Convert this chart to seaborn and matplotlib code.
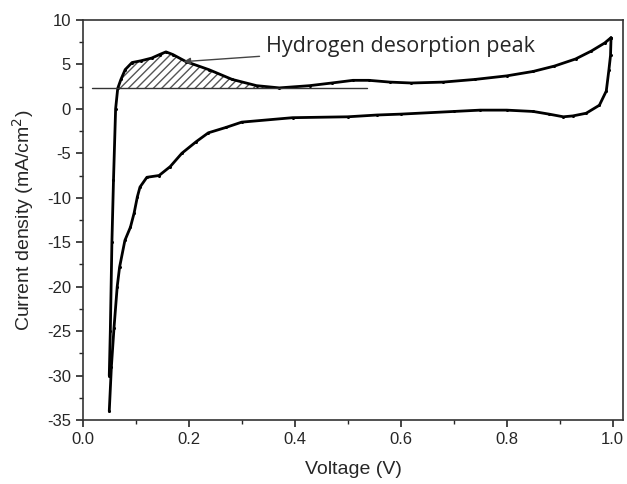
import numpy as np
import pandas as pd
import matplotlib
matplotlib.use("Agg")
import matplotlib.pyplot as plt
import seaborn as sns
from matplotlib.ticker import MultipleLocator

# anodic (forward) scan
v_anodic = [0.050, 0.052, 0.055, 0.058, 0.062, 0.066, 0.072, 0.080, 0.093, 0.110,
            0.130, 0.145, 0.157, 0.170, 0.195, 0.238, 0.282, 0.328, 0.371, 0.428,
            0.470, 0.510, 0.540, 0.580, 0.620, 0.680, 0.740, 0.800, 0.850, 0.890,
            0.930, 0.960, 0.985, 0.997]
j_anodic = [-30.0, -25.0, -15.0, -8.0, 0.0, 2.3, 3.3, 4.4, 5.2, 5.4,
            5.7, 6.1, 6.4, 6.1, 5.3, 4.4, 3.3, 2.6, 2.35, 2.6,
            2.9, 3.2, 3.2, 3.0, 2.9, 3.0, 3.3, 3.7, 4.2, 4.8,
            5.6, 6.5, 7.4, 8.0]

# cathodic (reverse) scan
v_cathodic = [0.997, 0.996, 0.993, 0.988, 0.975, 0.950, 0.925, 0.907, 0.880, 0.850,
              0.800, 0.750, 0.700, 0.600, 0.555, 0.500, 0.396, 0.300, 0.270, 0.237,
              0.214, 0.187, 0.165, 0.144, 0.121, 0.108, 0.103, 0.097, 0.090, 0.0795,
              0.0695, 0.065, 0.059, 0.054, 0.050]
j_cathodic = [8.0, 6.0, 4.4, 2.0, 0.4, -0.5, -0.8, -0.9, -0.6, -0.3,
              -0.15, -0.15, -0.3, -0.6, -0.7, -0.9, -1.0, -1.5, -2.1, -2.7,
              -3.7, -5.0, -6.5, -7.5, -7.7, -8.8, -9.9, -11.7, -13.3, -14.8,
              -17.8, -20.0, -24.6, -29.0, -34.0]

baseline_j = 2.3
baseline_v = [0.017, 0.536]
label_text = "Hydrogen desorption peak"

anodic = pd.DataFrame({"Voltage": v_anodic, "Current": j_anodic})
cathodic = pd.DataFrame({"Voltage": v_cathodic, "Current": j_cathodic})

sns.set_style("ticks")
plt.rcParams["font.family"] = ["Liberation Sans", "DejaVu Sans"]
plt.rcParams["axes.unicode_minus"] = False

fig = plt.figure(figsize=(6.27, 4.84), dpi=100)
ax = fig.add_axes([0.132, 0.132, 0.862, 0.827])

for df in (anodic, cathodic):
    sns.lineplot(data=df, x="Voltage", y="Current", sort=False, ax=ax,
                 color="black", linewidth=2.0, marker="o", markersize=2.2,
                 markeredgewidth=0, estimator=None)

# hatched desorption area above the baseline
va = np.array(v_anodic)
ja = np.array(j_anodic)
mask = (va >= 0.066) & (va <= 0.371)
ax.fill_between(va[mask], baseline_j, ja[mask], where=ja[mask] >= baseline_j,
                facecolor="none", edgecolor="#555555", hatch="////", linewidth=0)
ax.plot(baseline_v, [baseline_j, baseline_j], color="#333333", linewidth=1.0)

ax.annotate(label_text, xy=(0.19, 5.3), xytext=(0.345, 7.0),
            fontsize=15.5, family=["Open Sans", "DejaVu Sans"], va="center",
            arrowprops=dict(arrowstyle="-|>", color="#444444", lw=1.0,
                            shrinkA=2, shrinkB=0, mutation_scale=10))

ax.set_xlim(0.0, 1.02)
ax.set_ylim(-35, 10)
ax.xaxis.set_major_locator(MultipleLocator(0.2))
ax.xaxis.set_minor_locator(MultipleLocator(0.1))
ax.yaxis.set_major_locator(MultipleLocator(5))
ax.yaxis.set_minor_locator(MultipleLocator(2.5))
ax.xaxis.set_major_formatter(matplotlib.ticker.FormatStrFormatter("%.1f"))
ax.tick_params(which="major", length=5, width=1.2, labelsize=12)
ax.tick_params(which="minor", length=3, width=1.0)
for sp in ax.spines.values():
    sp.set_linewidth(1.2)
    sp.set_color("#333333")

ax.set_xlabel("Voltage (V)", fontsize=14, labelpad=10)
ax.set_ylabel("Current density (mA/cm$^2$)", fontsize=14, labelpad=8)

fig.savefig("out.png", dpi=100)
